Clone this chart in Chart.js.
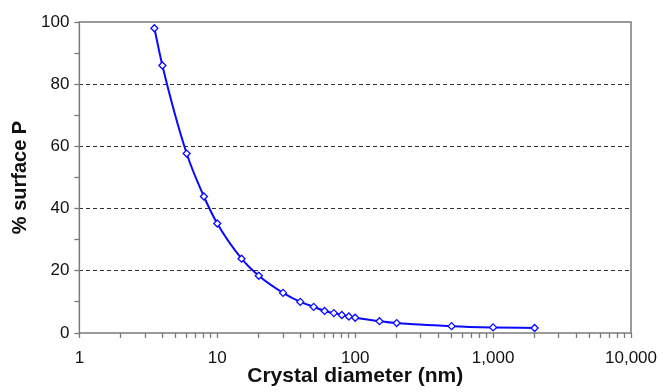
<!DOCTYPE html>
<html>
<head>
<meta charset="utf-8">
<script src="https://cdn.jsdelivr.net/npm/chart.js@4/dist/chart.umd.min.js"></script>
<style>
  html, body { margin: 0; padding: 0; background: #fff; }
  #wrap { width: 663px; height: 392px; }
</style>
</head>
<body>
<div id="wrap"><canvas id="chart"></canvas></div>
<script>
// crystal diameter (nm) vs % of P atoms at the surface
const diameters = [3.5, 4, 6, 8, 10, 15, 20, 30, 40, 50, 60, 70, 80, 90, 100, 150, 200, 500, 1000, 2000];
const surfaceP = [98, 86, 57.7, 43.9, 35.2, 23.9, 18.4, 12.9, 10, 8.4, 7.1, 6.4, 5.8, 5.3, 4.9, 3.8, 3.2, 2.2, 1.8, 1.6];

const xDecades = [1, 10, 100, 1000, 10000];
const yTicks = [0, 10, 20, 30, 40, 50, 60, 70, 80, 90, 100];
const yLabelled = [0, 20, 40, 60, 80, 100];

const blue = '#0a0aff';
const axisGrey = '#7a7a7a';
const txt = '#111';
const fam = 'Liberation Sans, Arial, sans-serif';

// frame round the plot area (top and right sides too)
const frame = {
    id: 'frame',
    afterDraw(chart) {
        const a = chart.chartArea, ctx = chart.ctx;
        ctx.save();
        ctx.strokeStyle = axisGrey;
        ctx.lineWidth = 1.5;
        ctx.strokeRect(a.left, a.top, a.right - a.left, a.bottom - a.top);
        ctx.restore();
    }
};

function xTickList() {
    const out = [];
    for (let i = 0; i < xDecades.length; i++) {
        out.push({value: xDecades[i]});
        if (i < xDecades.length - 1) {
            for (let m = 2; m < 10; m++) out.push({value: xDecades[i] * m});
        }
    }
    return out;
}

new Chart(document.getElementById('chart'), {
    type: 'line',
    data: {
        datasets: [{
            data: diameters.map((d, i) => ({x: d, y: surfaceP[i]})),
            borderColor: blue,
            borderWidth: 2,
            cubicInterpolationMode: 'monotone',
            pointStyle: 'rectRot',
            pointRadius: 3.5,
            pointBackgroundColor: '#fff',
            pointBorderColor: blue,
            pointBorderWidth: 1.3,
            fill: false
        }]
    },
    options: {
        responsive: true,
        maintainAspectRatio: false,
        animation: false,
        layout: { padding: {left: 8, right: 0, top: 22, bottom: 5} },
        plugins: {
            legend: { display: false },
            tooltip: { enabled: false }
        },
        scales: {
            x: {
                type: 'logarithmic',
                min: 1,
                max: 10000,
                afterBuildTicks: (scale) => { scale.ticks = xTickList(); },
                // tick padding gets added to the right overhang; let the last label run to the edge
                afterFit: (scale) => { scale.paddingRight = 32; },
                ticks: {
                    autoSkip: false,
                    maxRotation: 0,
                    color: txt,
                    padding: 12,
                    font: {family: fam, size: 17, lineHeight: 1},
                    callback: (v) => xDecades.includes(v) ? v.toLocaleString('en-US') : ''
                },
                grid: {
                    drawOnChartArea: false,
                    drawTicks: true,
                    tickLength: 5,
                    tickColor: axisGrey,
                    tickWidth: 1.3
                },
                border: { display: false },
                title: {
                    display: true,
                    text: 'Crystal diameter (nm)',
                    color: txt,
                    padding: {top: -13, bottom: 0},
                    font: {family: fam, size: 21, weight: 'bold', lineHeight: 1}
                }
            },
            y: {
                min: 0,
                max: 100,
                afterBuildTicks: (scale) => { scale.ticks = yTicks.map(v => ({value: v})); },
                ticks: {
                    autoSkip: false,
                    color: txt,
                    padding: 5,
                    font: {family: fam, size: 17},
                    callback: (v) => yLabelled.includes(v) ? String(v) : ''
                },
                grid: {
                    color: (c) => (c.tick && c.tick.value % 20 === 0 && c.tick.value > 0 && c.tick.value < 100) ? '#333' : 'rgba(0,0,0,0)',
                    lineWidth: 1,
                    tickLength: 5,
                    tickColor: axisGrey,
                    tickWidth: 1.3
                },
                border: { display: false, dash: [4, 3] },
                title: {
                    display: true,
                    text: '% surface P',
                    color: txt,
                    padding: {top: 0, bottom: 4},
                    font: {family: fam, size: 20, weight: 'bold'}
                }
            }
        }
    },
    plugins: [frame]
});
</script>
</body>
</html>
